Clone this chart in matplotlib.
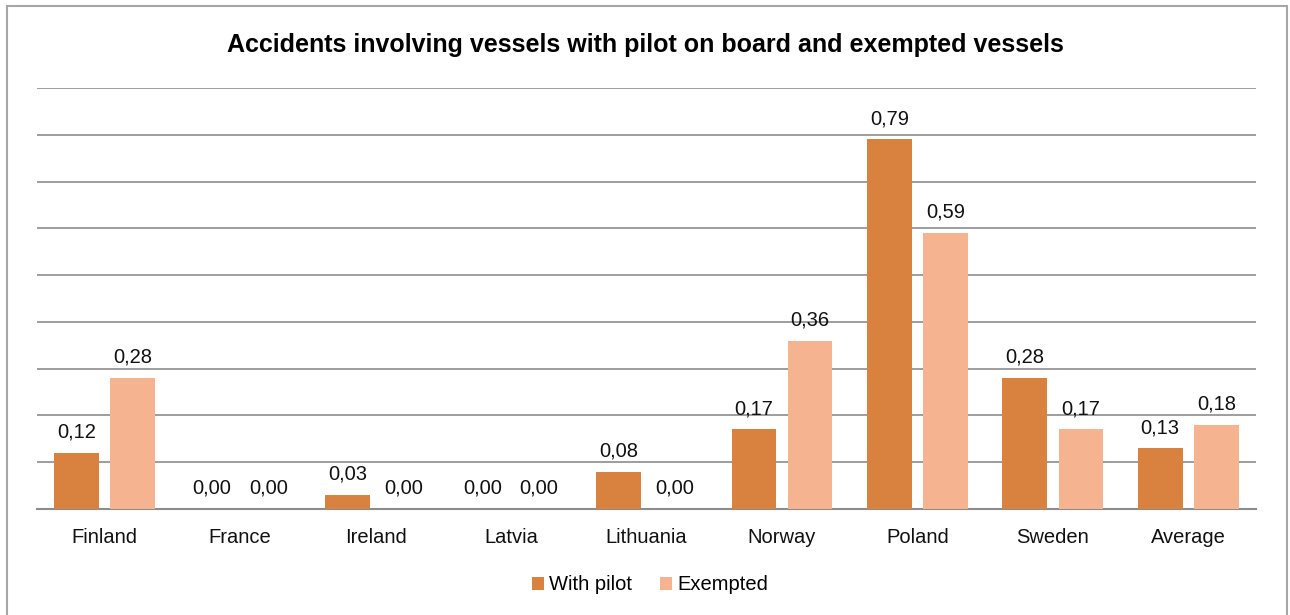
import matplotlib.pyplot as plt
import matplotlib.patches as mpatches
import numpy as np

plt.rcParams['font.family'] = ['Liberation Sans', 'DejaVu Sans']

countries = ['Finland', 'France', 'Ireland', 'Latvia', 'Lithuania',
             'Norway', 'Poland', 'Sweden', 'Average']
with_pilot = [0.12, 0.00, 0.03, 0.00, 0.08, 0.17, 0.79, 0.28, 0.13]
exempted = [0.28, 0.00, 0.00, 0.00, 0.00, 0.36, 0.59, 0.17, 0.18]

c_pilot = '#D9823F'
c_exempt = '#F5B48F'

fig = plt.figure(figsize=(12.9, 6.15), dpi=100)
ax = fig.add_axes([37/1290, 1 - 509/615, (1256 - 37)/1290, (509 - 88)/615])

x = np.arange(len(countries))
w = 0.33
off = 0.207
b1 = ax.bar(x - off, with_pilot, w, color=c_pilot, label='With pilot', zorder=3)
b2 = ax.bar(x + off, exempted, w, color=c_exempt, label='Exempted', zorder=3)

for bars, vals in ((b1, with_pilot), (b2, exempted)):
    for b, v in zip(bars, vals):
        ax.annotate(f'{v:.2f}'.replace('.', ','),
                    (b.get_x() + b.get_width()/2, v),
                    xytext=(0, 8), textcoords='offset points',
                    ha='center', va='bottom', fontsize=14.5, color='#111111')

ax.set_xlim(-0.5, len(countries) - 0.5)
ax.set_ylim(0, 0.9)
ax.set_yticks(np.arange(0, 0.91, 0.1))
ax.yaxis.grid(True, color='#8c8c8c', linewidth=1.2, zorder=0)
ax.tick_params(axis='y', left=False, labelleft=False)
ax.tick_params(axis='x', length=0, pad=14, labelsize=14.5)
ax.set_xticks(x)
ax.set_xticklabels(countries, color='#111111')
for s in ('top', 'right', 'left'):
    ax.spines[s].set_visible(False)
ax.spines['bottom'].set_color('#8c8c8c')
ax.spines['bottom'].set_linewidth(1.5)

fig.text(645/1290, 1 - 45/615, 'Accidents involving vessels with pilot on board and exempted vessels',
         ha='center', va='center', fontsize=18, fontweight='bold', color='black')

fig.legend(handles=[b1, b2], loc='center', bbox_to_anchor=(650/1290, 1 - 585/615),
           ncol=2, frameon=False, fontsize=14.5, handlelength=0.6, handleheight=0.6,
           handletextpad=0.25, columnspacing=1.4)

frame = mpatches.Rectangle((7/1290, -0.1), (1287 - 7)/1290, 1.1 - 6/615,
                           transform=fig.transFigure, fill=False,
                           edgecolor='#a6a6a6', linewidth=1.5, clip_on=False)
fig.patches.append(frame)

fig.savefig('out.png', dpi=100)
